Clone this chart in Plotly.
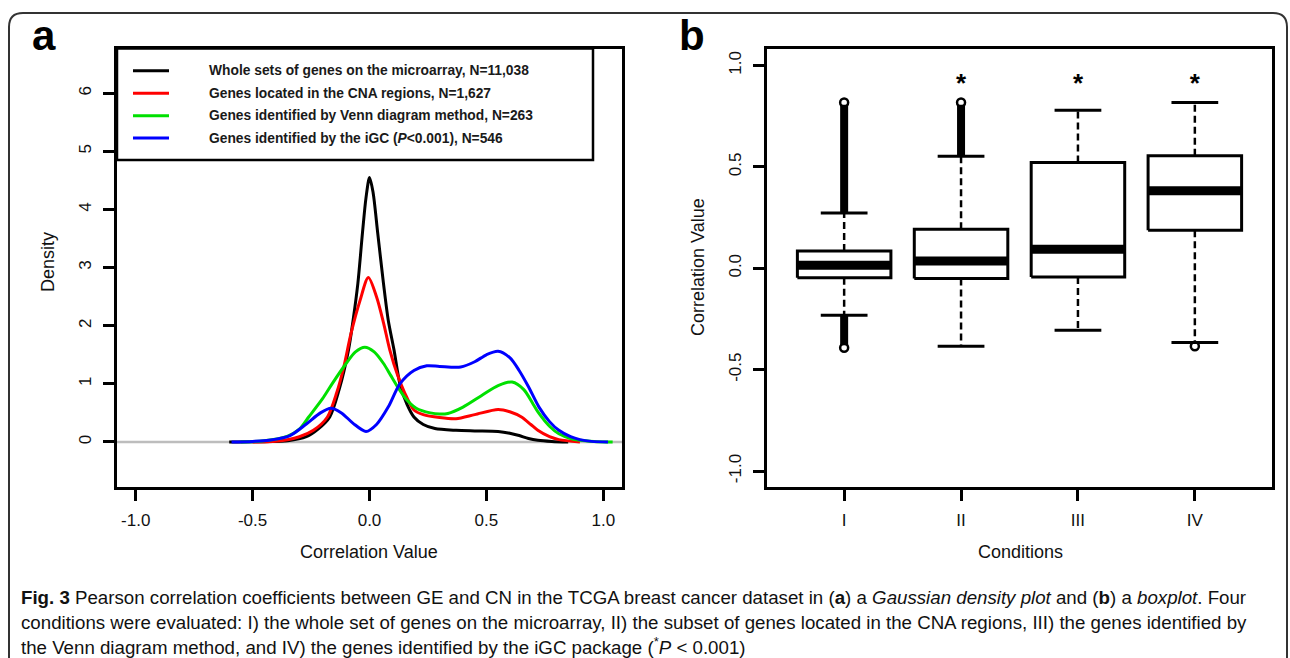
import plotly.graph_objects as go

# ---------------- data: panel a (density curves) ----------------
black_x = [-0.60, -0.45, -0.35, -0.27, -0.22, -0.17, -0.13, -0.09, -0.07, -0.05, -0.03, -0.015, 0.0,
           0.015, 0.035, 0.06, 0.08, 0.105, 0.13, 0.16, 0.19, 0.23, 0.28, 0.37, 0.45, 0.55, 0.60,
           0.64, 0.68, 0.72, 0.78, 0.85]
black_y = [0.0, 0.005, 0.02, 0.09, 0.22, 0.43, 0.9, 1.58, 2.1, 2.72, 3.6, 4.2, 4.55,
           4.3, 3.6, 2.72, 2.1, 1.58, 1.0, 0.65, 0.43, 0.3, 0.23, 0.2, 0.19, 0.18, 0.15,
           0.11, 0.06, 0.03, 0.01, 0.0]

red_x = [-0.50, -0.40, -0.30, -0.24, -0.18, -0.14, -0.11, -0.08, -0.04, -0.005, 0.03, 0.06, 0.087,
         0.12, 0.15, 0.19, 0.23, 0.30, 0.37, 0.45, 0.55, 0.60, 0.65, 0.69, 0.72, 0.77, 0.81, 0.90]
red_y = [0.0, 0.01, 0.09, 0.2, 0.43, 0.85, 1.29, 1.85, 2.44, 2.83, 2.5, 2.05, 1.58,
         1.15, 0.85, 0.55, 0.47, 0.42, 0.4, 0.47, 0.56, 0.52, 0.43, 0.3, 0.2, 0.09, 0.04, 0.0]

green_x = [-0.55, -0.45, -0.35, -0.30, -0.26, -0.20, -0.16, -0.10, -0.06, -0.02, 0.02, 0.06, 0.09,
           0.12, 0.16, 0.20, 0.26, 0.30, 0.335, 0.40, 0.48, 0.55, 0.61, 0.66, 0.70, 0.725, 0.77,
           0.81, 0.86, 0.90, 0.96, 1.04]
green_y = [0.0, 0.02, 0.1, 0.22, 0.43, 0.75, 1.0, 1.35, 1.55, 1.63, 1.55, 1.35, 1.15,
           0.95, 0.72, 0.58, 0.5, 0.48, 0.49, 0.6, 0.8, 0.97, 1.03, 0.9, 0.65, 0.49, 0.27,
           0.14, 0.06, 0.03, 0.01, 0.0]

blue_x = [-0.59, -0.50, -0.43, -0.34, -0.27, -0.21, -0.165, -0.12, -0.07, -0.015, 0.03, 0.08, 0.13,
          0.19, 0.245, 0.30, 0.39, 0.45, 0.50, 0.55, 0.60, 0.64, 0.68, 0.725, 0.77, 0.81, 0.86,
          0.90, 0.95, 1.02]
blue_y = [0.0, 0.01, 0.03, 0.11, 0.31, 0.5, 0.58, 0.5, 0.32, 0.18, 0.3, 0.6, 1.0,
          1.23, 1.31, 1.3, 1.29, 1.38, 1.5, 1.56, 1.45, 1.23, 0.95, 0.6, 0.35, 0.2, 0.09,
          0.04, 0.01, 0.0]

legend_labels = [
    "Whole sets of genes on the microarray, N=11,038",
    "Genes located in the CNA regions, N=1,627",
    "Genes identified by Venn diagram method, N=263",
    "Genes identified by the iGC (<i>P</i>&lt;0.001), N=546",
]
series_colors = ["#000000", "#ff0000", "#00e000", "#0000ff"]

density_ticks = [0, 1, 2, 3, 4, 5, 6]
corr_ticks = [-1.0, -0.5, 0.0, 0.5, 1.0]

# ---------------- data: panel b (boxplot) ----------------
conditions = ["I", "II", "III", "IV"]
q1 = [-0.046, -0.050, -0.043, 0.188]
medians = [0.015, 0.036, 0.094, 0.382]
q3 = [0.085, 0.193, 0.522, 0.555]
whisker_low = [-0.232, -0.384, -0.305, -0.366]
whisker_high = [0.273, 0.553, 0.780, 0.818]
outlier_high_max = [0.818, 0.818, None, None]
outlier_low_min = [-0.392, None, None, -0.384]
significant = [False, True, True, True]

# ---------------- layout helpers ----------------
W, H = 1290, 658
def px(x):
    return x / W
def py(y):
    return 1 - y / H

FONT = "Liberation Sans, Arial, sans-serif"

fig = go.Figure()

# panel a curves
for xs, ys, col in [(black_x, black_y, series_colors[0]), (red_x, red_y, series_colors[1]),
                    (green_x, green_y, series_colors[2]), (blue_x, blue_y, series_colors[3])]:
    fig.add_trace(go.Scatter(x=xs, y=ys, mode="lines", line=dict(color=col, width=3, shape="spline", smoothing=0.8),
                             xaxis="x", yaxis="y", showlegend=False, hoverinfo="skip"))

# panel b boxes
bw = 0.8
for i, c in enumerate(conditions):
    pos = i + 1
    fig.add_trace(go.Scatter(x=[pos, pos], y=[q3[i], whisker_high[i]], mode="lines",
                             line=dict(color="black", width=2.5, dash="7px,4px"), xaxis="x2", yaxis="y2",
                             showlegend=False, hoverinfo="skip"))
    fig.add_trace(go.Scatter(x=[pos, pos], y=[q1[i], whisker_low[i]], mode="lines",
                             line=dict(color="black", width=2.5, dash="7px,4px"), xaxis="x2", yaxis="y2",
                             showlegend=False, hoverinfo="skip"))
    for wv in (whisker_high[i], whisker_low[i]):
        fig.add_trace(go.Scatter(x=[pos - bw / 4, pos + bw / 4], y=[wv, wv], mode="lines",
                                 line=dict(color="black", width=3), xaxis="x2", yaxis="y2",
                                 showlegend=False, hoverinfo="skip"))
    fig.add_trace(go.Scatter(x=[pos - bw / 2, pos + bw / 2, pos + bw / 2, pos - bw / 2, pos - bw / 2],
                             y=[q1[i], q1[i], q3[i], q3[i], q1[i]], mode="lines",
                             line=dict(color="black", width=3), fill="toself", fillcolor="white",
                             xaxis="x2", yaxis="y2", showlegend=False, hoverinfo="skip"))
    fig.add_trace(go.Scatter(x=[pos - bw / 2, pos + bw / 2], y=[medians[i], medians[i]], mode="lines",
                             line=dict(color="black", width=9), xaxis="x2", yaxis="y2",
                             showlegend=False, hoverinfo="skip"))
    if outlier_high_max[i] is not None:
        fig.add_trace(go.Scatter(x=[pos, pos], y=[whisker_high[i], outlier_high_max[i] - 0.012], mode="lines",
                                 line=dict(color="black", width=8), xaxis="x2", yaxis="y2",
                                 showlegend=False, hoverinfo="skip"))
        fig.add_trace(go.Scatter(x=[pos], y=[outlier_high_max[i]], mode="markers",
                                 marker=dict(symbol="circle-open", size=8, color="black", line=dict(width=2.5)),
                                 xaxis="x2", yaxis="y2", showlegend=False, hoverinfo="skip"))
    if outlier_low_min[i] is not None:
        if outlier_low_min[i] < whisker_low[i] - 0.03:
            fig.add_trace(go.Scatter(x=[pos, pos], y=[whisker_low[i], outlier_low_min[i] + 0.012], mode="lines",
                                     line=dict(color="black", width=8), xaxis="x2", yaxis="y2",
                                     showlegend=False, hoverinfo="skip"))
        fig.add_trace(go.Scatter(x=[pos], y=[outlier_low_min[i]], mode="markers",
                                 marker=dict(symbol="circle-open", size=8, color="black", line=dict(width=2.5)),
                                 xaxis="x2", yaxis="y2", showlegend=False, hoverinfo="skip"))

ast_x = [i + 1 for i, s in enumerate(significant) if s]
fig.add_trace(go.Scatter(x=ast_x, y=[0.90] * len(ast_x), mode="text", text=["<b>*</b>"] * len(ast_x),
                         textfont=dict(family=FONT, size=26, color="black"), textposition="middle center",
                         xaxis="x2", yaxis="y2", showlegend=False, hoverinfo="skip"))

axis_common = dict(showgrid=False, zeroline=False, ticks="outside", ticklen=11, tickwidth=2.5,
                   tickcolor="black", showline=True, linewidth=2.5, linecolor="black", mirror=True,
                   ticklabelstandoff=5, tickfont=dict(family=FONT, size=17, color="#111"))

fig.update_layout(
    width=W, height=H, margin=dict(l=0, r=0, t=0, b=0),
    paper_bgcolor="white", plot_bgcolor="white", showlegend=False,
    xaxis=dict(domain=[px(117), px(622)], range=[-1.08, 1.08], tickvals=corr_ticks,
               ticktext=["%.1f" % v for v in corr_ticks], anchor="y", **axis_common),
    yaxis=dict(domain=[py(487), py(48.5)], range=[-0.775, 6.77], tickvals=density_ticks,
               tickangle=-90, anchor="x", **axis_common),
    xaxis2=dict(domain=[px(767), px(1272)], range=[0.34, 4.66], tickvals=[1, 2, 3, 4],
                ticktext=conditions, anchor="y2", **axis_common),
    yaxis2=dict(domain=[py(487.3), py(49.3)], range=[-1.08, 1.08], tickvals=corr_ticks,
                ticktext=["%.1f" % v for v in corr_ticks], tickangle=-90, anchor="x2", **axis_common),
)

shapes = []
shapes.append(dict(type="line", xref="x domain", yref="y", x0=0, x1=1, y0=0, y1=0,
                   line=dict(color="#bdbdbd", width=2.5), layer="below"))
shapes.append(dict(type="rect", xref="paper", yref="paper", x0=px(117), x1=px(593), y0=py(160), y1=py(48.5),
                   line=dict(color="black", width=2.5), fillcolor="white", layer="above"))
legend_y = [70.7, 93.3, 115.7, 138]
for ly, col in zip(legend_y, series_colors):
    shapes.append(dict(type="line", xref="paper", yref="paper", x0=px(133), x1=px(169), y0=py(ly), y1=py(ly),
                       line=dict(color=col, width=3), layer="above"))
r = 14
x0b, y0b, x1b, y1b = 9, 13, 1287, 680
path = (f"M {px(x0b)},{py(y1b)} L {px(x0b)},{py(y0b + r)} Q {px(x0b)},{py(y0b)} {px(x0b + r)},{py(y0b)} "
        f"L {px(x1b - r)},{py(y0b)} Q {px(x1b)},{py(y0b)} {px(x1b)},{py(y0b + r)} L {px(x1b)},{py(y1b)}")
shapes.append(dict(type="path", xref="paper", yref="paper", path=path, line=dict(color="#333", width=2)))
fig.update_layout(shapes=shapes)

ann = []
for ly, lab in zip(legend_y, legend_labels):
    ann.append(dict(x=px(207), y=py(ly), xref="paper", yref="paper", text="<b>" + lab + "</b>", showarrow=False,
                    xanchor="left", yanchor="middle", font=dict(family=FONT, size=13.8, color="#1a1a1a")))
ann.append(dict(x=px(44), y=py(35), xref="paper", yref="paper", text="<b>a</b>", showarrow=False,
                xanchor="center", yanchor="middle", font=dict(family=FONT, size=42, color="black")))
ann.append(dict(x=px(692), y=py(35), xref="paper", yref="paper", text="<b>b</b>", showarrow=False,
                xanchor="center", yanchor="middle", font=dict(family=FONT, size=42, color="black")))
ann.append(dict(x=px(369), y=py(552), xref="paper", yref="paper", text="Correlation Value", showarrow=False,
                xanchor="center", yanchor="middle", font=dict(family=FONT, size=18, color="#111")))
ann.append(dict(x=px(48), y=py(262), xref="paper", yref="paper", text="Density", showarrow=False, textangle=-90,
                xanchor="center", yanchor="middle", font=dict(family=FONT, size=18, color="#111")))
ann.append(dict(x=px(1020), y=py(552), xref="paper", yref="paper", text="Conditions", showarrow=False,
                xanchor="center", yanchor="middle", font=dict(family=FONT, size=18, color="#111")))
ann.append(dict(x=px(698), y=py(267), xref="paper", yref="paper", text="Correlation Value", showarrow=False,
                textangle=-90, xanchor="center", yanchor="middle", font=dict(family=FONT, size=18, color="#111")))
caption = [
    "<b>Fig. 3</b> Pearson correlation coefficients between GE and CN in the TCGA breast cancer dataset in (<b>a</b>) a <i>Gaussian density plot</i> and (<b>b</b>) a <i>boxplot</i>. Four",
    "conditions were evaluated: I) the whole set of genes on the microarray, II) the subset of genes located in the CNA regions, III) the genes identified by",
    "the Venn diagram method, and IV) the genes identified by the iGC package (<sup>*</sup><i>P</i> &lt; 0.001)",
]
for cy, line in zip([597, 622, 646], caption):
    ann.append(dict(x=px(19), y=py(cy), xref="paper", yref="paper", text=line, showarrow=False,
                    xanchor="left", yanchor="middle", font=dict(family=FONT, size=18.7, color="#111")))
fig.update_layout(annotations=ann)

fig.write_html("out.html", config={"displayModeBar": False},
               post_script="document.body.style.margin='0';document.body.style.overflow='hidden';")
